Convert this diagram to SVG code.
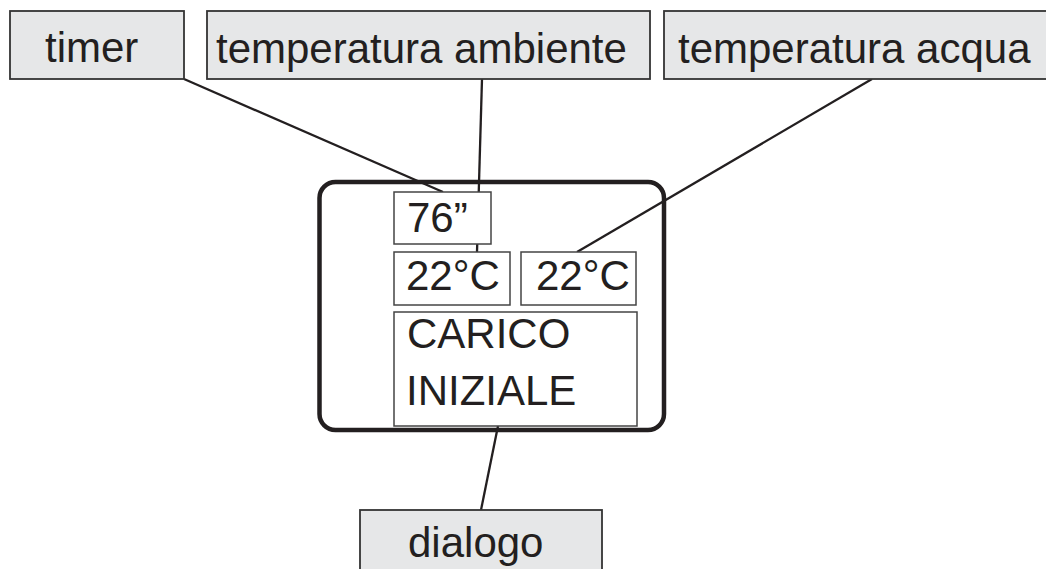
<svg xmlns="http://www.w3.org/2000/svg" width="1046" height="569" viewBox="0 0 1046 569">
<style>
.lbl{fill:#e6e7e8;stroke:#333;stroke-width:1.8}
.cell{fill:#fff;stroke:#444;stroke-width:1.5}
text{font-family:"Liberation Sans",Arial,sans-serif;font-size:42px;fill:#231f20}
.con{stroke:#231f20;stroke-width:2.3;fill:none}
</style>
<rect width="1046" height="569" fill="#fff"/>
<g id="connectors">
<line class="con" x1="184" y1="79" x2="443" y2="192"/>
<line class="con" x1="482" y1="79" x2="477" y2="252"/>
<line class="con" x1="872" y1="79" x2="577" y2="252"/>
<line class="con" x1="498" y1="426" x2="481" y2="510"/>
</g>
<g id="display">
<rect x="319.5" y="182" width="344.5" height="248" rx="16" fill="none" stroke="#231f20" stroke-width="4.5"/>
</g>
<g id="timer-value">
<rect class="cell" x="394" y="192" width="97" height="52"/>
<text x="407" y="232">76”</text>
</g>
<g id="temp-ambiente-value">
<rect class="cell" x="394" y="252" width="116" height="53"/>
<text x="406" y="290">22°C</text>
</g>
<g id="temp-acqua-value">
<rect class="cell" x="521" y="252" width="115" height="53"/>
<text x="536" y="290">22°C</text>
</g>
<g id="dialogo-value">
<rect class="cell" x="394" y="312" width="243" height="114"/>
<text x="407" y="348">CARICO</text>
<text x="406" y="405">INIZIALE</text>
</g>
<g id="timer">
<rect class="lbl" x="10" y="11" width="174" height="68"/>
<text x="45" y="62">timer</text>
</g>
<g id="temperatura-ambiente">
<rect class="lbl" x="207" y="11" width="443" height="68"/>
<text x="216" y="63">temperatura ambiente</text>
</g>
<g id="temperatura-acqua">
<rect class="lbl" x="664" y="11" width="390" height="68"/>
<text x="678" y="63">temperatura acqua</text>
</g>
<g id="dialogo">
<rect class="lbl" x="360" y="510" width="242" height="70"/>
<text x="408" y="557">dialogo</text>
</g>
</svg>
